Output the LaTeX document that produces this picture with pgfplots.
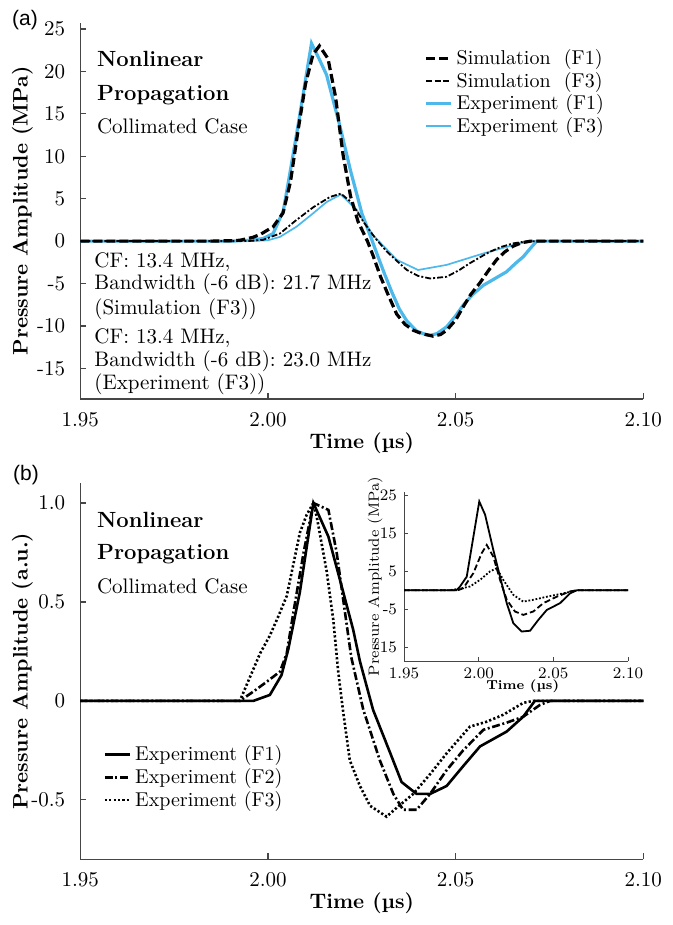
\documentclass[border=0pt]{standalone}
\usepackage{pgfplots}
\pgfplotsset{compat=1.18}
\usepackage{fontspec}
\newfontfamily\arialfont{Liberation Sans}
\definecolor{expblue}{RGB}{77,184,234}
\definecolor{axgray}{RGB}{70,70,70}

\pgfplotstableread{
x y
1.950 0
1.985 0
1.990 0.05
1.9925 0.1
1.996 0.45
1.998 0.8
2.0014 1.7
2.004 3.3
2.006 7.0
2.008 13.0
2.010 18.5
2.012 22.0
2.0137 23.0
2.016 21.5
2.018 17.0
2.020 10.2
2.022 5.3
2.024 2.3
2.0265 0
2.028 -1.7
2.030 -4.2
2.032 -6.3
2.0343 -8.6
2.0365 -9.8
2.0387 -10.5
2.041 -10.9
2.044 -11.2
2.046 -11.0
2.0476 -10.5
2.050 -9.3
2.052 -7.75
2.054 -6.3
2.0565 -4.9
2.0587 -3.5
2.0609 -2.2
2.063 -1.3
2.0653 -0.6
2.0675 -0.2
2.070 0
2.100 0
}\simFone

\pgfplotstableread{
x y
1.950 0
1.990 0
1.995 0.02
1.9987 0.15
2.0032 0.9
2.0076 2.5
2.0121 4.0
2.0165 5.2
2.0194 5.6
2.0222 4.6
2.0254 2.3
2.0285 0.4
2.0316 -1.2
2.0345 -2.4
2.037 -3.4
2.040 -4.1
2.0432 -4.4
2.0476 -4.2
2.051 -3.4
2.0538 -2.6
2.0565 -1.9
2.0591 -1.26
2.062 -0.7
2.0653 -0.27
2.068 -0.08
2.0716 0
2.100 0
}\simFthree

\pgfplotstableread{
x y
1.950 0
1.990 0
1.995 0.1
1.9987 0.3
2.0014 0.9
2.0041 3.6
2.006 8.4
2.008 13.6
2.010 19.0
2.0116 23.3
2.0136 21.5
2.0156 19.6
2.0192 13.5
2.022 8.3
2.025 3.3
2.0278 0
2.029 -1.45
2.031 -3.8
2.033 -6.0
2.035 -8.0
2.037 -9.4
2.0396 -10.6
2.042 -11.0
2.0432 -11.1
2.045 -10.9
2.0476 -10.1
2.050 -8.8
2.052 -7.55
2.0545 -6.3
2.0574 -5.2
2.0605 -4.4
2.0636 -3.6
2.066 -2.6
2.068 -1.85
2.070 -0.8
2.0716 0
2.100 0
}\expFone

\pgfplotstableread{
x y
1.950 0
1.995 0
2.000 0.1
2.0032 0.5
2.0076 1.7
2.0121 3.3
2.0156 4.6
2.0194 5.5
2.0236 3.7
2.028 0.7
2.0343 -2.2
2.040 -3.4
2.0476 -2.8
2.0574 -1.45
2.0663 -0.35
2.070 0
2.100 0
}\expFthree

\pgfplotstableread{
x y
1.950 0
1.9961 0
2.0005 0.03
2.0036 0.13
2.0054 0.26
2.0085 0.55
2.0121 1.0
2.0161 0.83
2.0192 0.61
2.0227 0.36
2.0245 0.2
2.028 -0.045
2.0325 -0.26
2.0356 -0.41
2.0396 -0.47
2.0432 -0.47
2.0476 -0.43
2.052 -0.33
2.0565 -0.23
2.0636 -0.155
2.068 -0.08
2.0711 0
2.100 0
}\nFone

\pgfplotstableread{
x y
1.950 0
1.9925 0
1.9961 0.047
1.9997 0.097
2.0032 0.148
2.005 0.24
2.0068 0.45
2.0095 0.75
2.0121 1.0
2.0161 0.965
2.0183 0.75
2.0205 0.45
2.0222 0.22
2.0254 -0.045
2.0298 -0.30
2.0334 -0.47
2.036 -0.55
2.0396 -0.55
2.0432 -0.47
2.0476 -0.35
2.052 -0.25
2.0574 -0.146
2.0636 -0.11
2.068 -0.08
2.0725 -0.02
2.0752 0
2.100 0
}\nFtwo

\pgfplotstableread{
x y
1.950 0
1.9925 0
1.9952 0.12
1.9979 0.24
2.0005 0.33
2.0026 0.42
2.005 0.53
2.0072 0.73
2.0085 0.85
2.0103 0.94
2.0121 1.0
2.013 0.93
2.0156 0.66
2.0174 0.41
2.0187 0.15
2.0200 -0.05
2.0218 -0.30
2.0245 -0.43
2.0272 -0.53
2.0316 -0.585
2.0343 -0.54
2.0387 -0.47
2.0432 -0.37
2.0476 -0.265
2.0538 -0.13
2.0583 -0.105
2.0627 -0.07
2.068 -0.01
2.0707 0
2.100 0
}\nFthree

\pgfplotstableread{
x y
1.950 0
1.985 0
1.9875 1.0
1.992 3.6
2.0004 23.5
2.0043 20.0
2.0098 10.7
2.0143 3.6
2.0188 -3.4
2.0232 -8.7
2.0288 -10.9
2.0344 -10.7
2.040 -7.8
2.0456 -5.2
2.0545 -3.4
2.0612 -0.8
2.0657 0
2.100 0
}\inFone

\pgfplotstableread{
x y
1.950 0
1.986 0
1.9897 0.55
1.9964 4.5
2.0020 9.8
2.0054 12.0
2.0098 8.9
2.0143 2.75
2.0188 -2.5
2.0243 -5.6
2.0299 -6.5
2.0366 -5.6
2.0433 -3.4
2.0522 -1.7
2.0612 -0.3
2.0657 0
2.100 0
}\inFtwo

\pgfplotstableread{
x y
1.950 0
1.980 0
1.9853 0.3
1.9942 1.0
2.0009 2.75
2.0076 5.0
2.0121 5.85
2.0165 2.75
2.0232 -1.2
2.0299 -3.0
2.0366 -2.5
2.0456 -1.7
2.0567 -0.8
2.0657 0
2.100 0
}\inFthree

\pgfplotsset{
  mainaxis/.style={
    scale only axis, width=281.5pt, height=188pt,
    xmin=1.95, xmax=2.10,
    axis lines=left,
    axis line style={-, axgray, line width=0.6pt},
    tick align=inside, major tick length=3pt,
    tick style={axgray, line width=0.6pt},
    xtick={1.95,2.00,2.05,2.10}, xticklabels={1.95,2.00,2.05,2.10},
    tick label style={font=\fontsize{10.5}{12.6}\selectfont},
    xticklabel style={yshift=-3pt},
    yticklabel style={xshift=-4pt},
    label style={font=\fontsize{10.5}{12.6}\selectfont\bfseries},
    xlabel style={at={(axis description cs:0.5,-0.117)}, anchor=center},
    ylabel style={at={(axis description cs:-0.103,0.5)}, anchor=center},
    legend image code/.code={\draw[#1] (0pt,0pt) -- (12.5pt,0pt);},
    legend cell align=left,
  },
}
\tikzset{
  ann/.style={anchor=base west, font=\fontsize{10.5}{12.6}\selectfont, inner sep=0pt},
  ttl/.style={anchor=base west, font=\fontsize{11}{13}\selectfont\bfseries, inner sep=0pt},
}

\begin{document}
\begin{tikzpicture}
\useasboundingbox (0pt,0pt) rectangle (336.5pt,-462.5pt);

% ---------------- (a) ----------------
\begin{axis}[mainaxis,
  at={(40.15pt,-11.5pt)}, anchor=north west,
  ymin=-18.6, ymax=25.7,
  ytick={-15,-10,-5,0,5,10,15,20,25},
  yticklabels={-15,-10,-5,0,5,10,15,20,25},
  xlabel={Time (µs)}, ylabel={Pressure Amplitude (MPa)},
  legend style={draw=none, fill=none, at={(rel axis cs:0.6,0.952)}, anchor=north west,
    font=\fontsize{10}{12}\selectfont, row sep=-1.7pt},
]
\addlegendimage{black, line width=1.6pt, dash pattern=on 4.5pt off 2pt}
\addlegendentry{Simulation~~(F1)}
\addlegendimage{black, line width=0.9pt, dash pattern=on 3pt off 1.2pt}
\addlegendentry{Simulation~~(F3)}
\addlegendimage{expblue, line width=1.6pt}
\addlegendentry{Experiment (F1)}
\addlegendimage{expblue, line width=0.85pt}
\addlegendentry{Experiment (F3)}

\addplot[forget plot, expblue, line width=1.6pt] table[x=x,y=y] {\expFone};
\addplot[forget plot, expblue, line width=0.85pt] table[x=x,y=y] {\expFthree};
\addplot[forget plot, black, line width=1.6pt, dash pattern=on 4.5pt off 2pt] table[x=x,y=y] {\simFone};
\addplot[forget plot, black, line width=0.9pt, dash pattern=on 3pt off 1pt on 1pt off 1pt] table[x=x,y=y] {\simFthree};

\node[ttl] at (rel axis cs:0.0291,0.884) {Nonlinear};
\node[ttl] at (rel axis cs:0.0291,0.795) {Propagation};
\node[ann] at (rel axis cs:0.0291,0.707) {Collimated Case};
\node[ann] at (rel axis cs:0.0243,0.351) {CF: 13.4 MHz,};
\node[ann] at (rel axis cs:0.0243,0.290) {Bandwidth (-6 dB): 21.7 MHz};
\node[ann] at (rel axis cs:0.0243,0.226) {(Simulation (F3))};
\node[ann] at (rel axis cs:0.0243,0.148) {CF: 13.4 MHz,};
\node[ann] at (rel axis cs:0.0243,0.086) {Bandwidth (-6 dB): 23.0 MHz};
\node[ann] at (rel axis cs:0.0243,0.024) {(Experiment (F3))};
\end{axis}

% ---------------- (b) ----------------
\begin{axis}[mainaxis,
  at={(40.15pt,-241.6pt)}, anchor=north west,
  ymin=-0.8, ymax=1.1,
  ytick={-0.5,0,0.5,1.0},
  yticklabels={-0.5,0,0.5,1.0},
  xlabel={Time (µs)}, ylabel={Pressure Amplitude (a.u.)},
  legend style={draw=none, fill=none, at={(rel axis cs:0.03,0.325)}, anchor=north west,
    font=\fontsize{10}{12}\selectfont, row sep=-1.6pt},
]
\addplot[black, line width=1.3pt] table[x=x,y=y] {\nFone};
\addlegendentry{Experiment (F1)}
\addplot[black, line width=1.3pt, dash pattern=on 4pt off 1.3pt on 1pt off 1.3pt] table[x=x,y=y] {\nFtwo};
\addlegendentry{Experiment (F2)}
\addplot[black, line width=1.3pt, dash pattern=on 1.1pt off 1.1pt] table[x=x,y=y] {\nFthree};
\addlegendentry{Experiment (F3)}

\node[ttl] at (rel axis cs:0.0291,0.883) {Nonlinear};
\node[ttl] at (rel axis cs:0.0291,0.798) {Propagation};
\node[ann] at (rel axis cs:0.0291,0.707) {Collimated Case};
\end{axis}

% ---------------- inset ----------------
\begin{axis}[
  scale only axis, width=112pt, height=84.5pt,
  at={(202pt,-246pt)}, anchor=north west,
  xmin=1.95, xmax=2.10, ymin=-18.7, ymax=26,
  axis lines=left,
  axis line style={-, axgray, line width=0.5pt},
  tick align=inside, major tick length=2pt,
  tick style={axgray, line width=0.5pt},
  xtick={1.95,2.00,2.05,2.10}, xticklabels={1.95,2.00,2.05,2.10},
  ytick={-15,-5,5,15,25}, yticklabels={-15,-5,5,15,25},
  tick label style={font=\fontsize{8}{9.6}\selectfont},
  xlabel={\textbf{Time (µs)}}, ylabel={Pressure Amplitude (MPa)},
  xlabel style={font=\fontsize{6.5}{7.5}\selectfont, at={(axis description cs:0.53,-0.152)}, anchor=center},
  ylabel style={font=\fontsize{7.4}{8.5}\selectfont, at={(axis description cs:-0.129,0.5)}, anchor=center},
]
\addplot[black, line width=0.9pt] table[x=x,y=y] {\inFone};
\addplot[black, line width=0.9pt, dash pattern=on 3pt off 1.5pt] table[x=x,y=y] {\inFtwo};
\addplot[black, line width=0.9pt, dash pattern=on 0.9pt off 0.9pt] table[x=x,y=y] {\inFthree};
\end{axis}

\node[font=\arialfont\fontsize{10.5}{12.6}\selectfont] at (12.5pt,-10pt) {(a)};
\node[font=\arialfont\fontsize{10.5}{12.6}\selectfont] at (13pt,-237.5pt) {(b)};
\end{tikzpicture}
\end{document}
